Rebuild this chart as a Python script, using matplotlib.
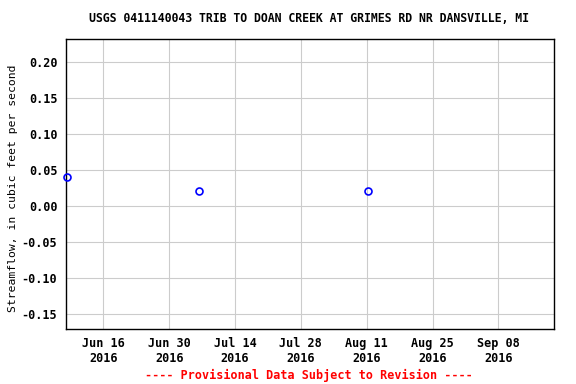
import datetime as dt
import matplotlib
matplotlib.use("Agg")
import matplotlib.pyplot as plt

# data
dates = [dt.datetime(2016, 6, 8, 6), dt.datetime(2016, 7, 6, 10), dt.datetime(2016, 8, 11, 4)]
flow = [0.04, 0.02, 0.02]
tick_dates = [dt.datetime(2016, 6, 16) + dt.timedelta(days=14 * i) for i in range(7)]
yticks = [-0.15, -0.10, -0.05, 0.00, 0.05, 0.10, 0.15, 0.20]

title = "USGS 0411140043 TRIB TO DOAN CREEK AT GRIMES RD NR DANSVILLE, MI"
ylabel = "Streamflow, in cubic feet per second"
footer = "---- Provisional Data Subject to Revision ----"

plt.rcParams['font.family'] = 'DejaVu Sans Mono'
plt.rcParams['font.weight'] = 'bold'

fig = plt.figure(figsize=(5.76, 3.84), dpi=100)
ax = fig.add_axes([0.114, 0.143, 0.848, 0.755])

ax.plot(dates, flow, linestyle='none', marker='o', markersize=5,
        markerfacecolor='none', markeredgecolor='#0000ff', markeredgewidth=1.2,
        clip_on=False, zorder=3)

ax.set_xlim(dt.datetime(2016, 6, 8), dt.datetime(2016, 9, 19, 20))
ax.set_ylim(-0.171, 0.231)
ax.set_xticks(tick_dates)
ax.set_xticklabels([d.strftime('%b %d\n%Y') for d in tick_dates])
ax.set_yticks(yticks)
ax.set_yticklabels(['%.2f' % v for v in yticks])
ax.tick_params(labelsize=8.5, length=0, pad=6)
ax.grid(True, color='#cccccc', linewidth=0.8)
ax.set_axisbelow(True)
for s in ax.spines.values():
    s.set_linewidth(1)

ax.set_ylabel(ylabel, fontsize=8.2)
ax.yaxis.set_label_coords(-0.098, 0.487)
fig.text(0.537, 0.951, title, ha='center', va='center', fontsize=8.3)
fig.text(0.537, 0.023, footer, ha='center', va='center', fontsize=8.5, color='#ff0000')

fig.savefig('out.png', dpi=100)
